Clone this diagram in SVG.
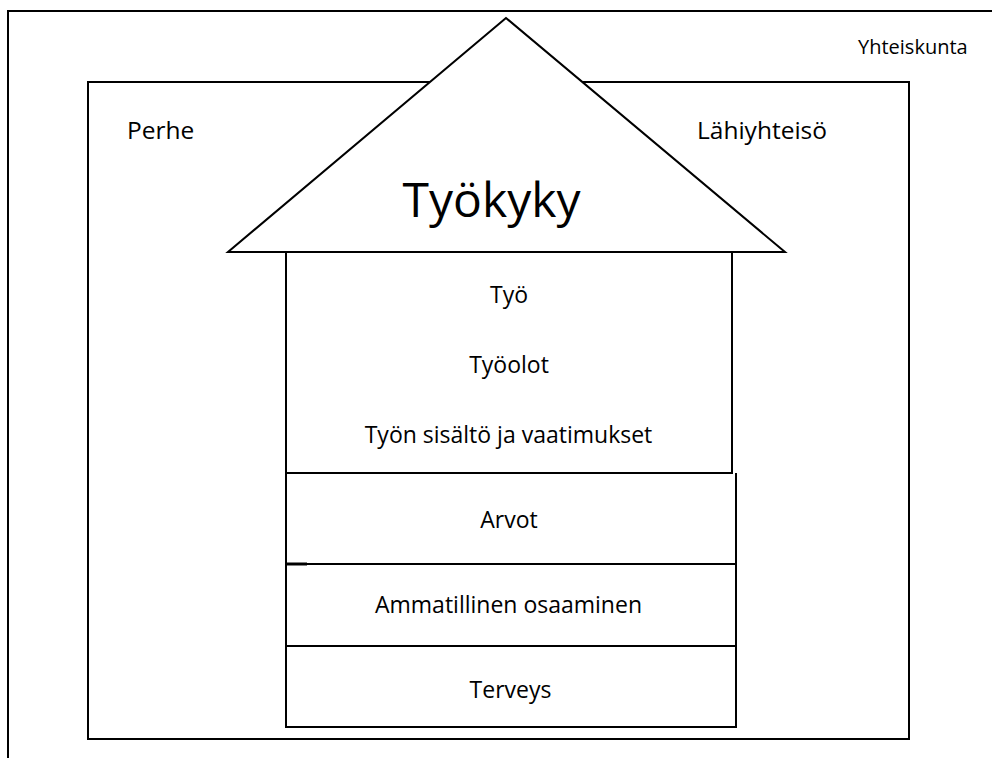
<svg xmlns="http://www.w3.org/2000/svg" width="992" height="758" viewBox="0 0 992 758">
<style>
.ln{fill:none;stroke:#000;stroke-width:2}
.t{font-family:"Open Sans","Noto Sans","DejaVu Sans",sans-serif;font-size:23px;fill:#000}
.c{text-anchor:middle}
</style>
<rect width="992" height="758" fill="#fff"/>
<g id="yhteiskunta">
<path class="ln" d="M8,760 L8,11 L995,11"/>
<text class="t" x="858" y="54" style="font-size:20px">Yhteiskunta</text>
</g>
<g id="lahiyhteiso">
<rect class="ln" x="88" y="82" width="821" height="657"/>
<text class="t" x="127" y="139" style="font-size:24.5px">Perhe</text>
<text class="t" x="697" y="139" style="font-size:24.5px">Lähiyhteisö</text>
</g>
<g id="tyokyky">
<polygon points="506,18 228,252 785,252" fill="#fff" stroke="#000" stroke-width="2"/>
<text class="t c" x="491.5" y="217" style="font-size:48px">Työkyky</text>
</g>
<g id="tyo">
<path class="ln" d="M286,252 L286,473 M732,252 L732,473 L286,473"/>
<text class="t c" x="509" y="303">Työ</text>
<text class="t c" x="509" y="373">Työolot</text>
<text class="t c" x="508.5" y="443">Työn sisältö ja vaatimukset</text>
</g>
<g id="arvot">
<path class="ln" d="M286,473 L286,564 M736,473 L736,564 M286,564 L736,564"/>
<path d="M286,564 L307,564" stroke="#000" stroke-width="3"/>
<text class="t c" x="509" y="528">Arvot</text>
</g>
<g id="ammatillinen">
<path class="ln" d="M286,564 L286,646 M736,564 L736,646 M286,646 L736,646"/>
<text class="t c" x="508.5" y="613">Ammatillinen osaaminen</text>
</g>
<g id="terveys">
<path class="ln" d="M286,646 L286,727 L736,727 L736,646"/>
<text class="t c" x="510.5" y="698">Terveys</text>
</g>
<g id="connectors"></g>
</svg>
